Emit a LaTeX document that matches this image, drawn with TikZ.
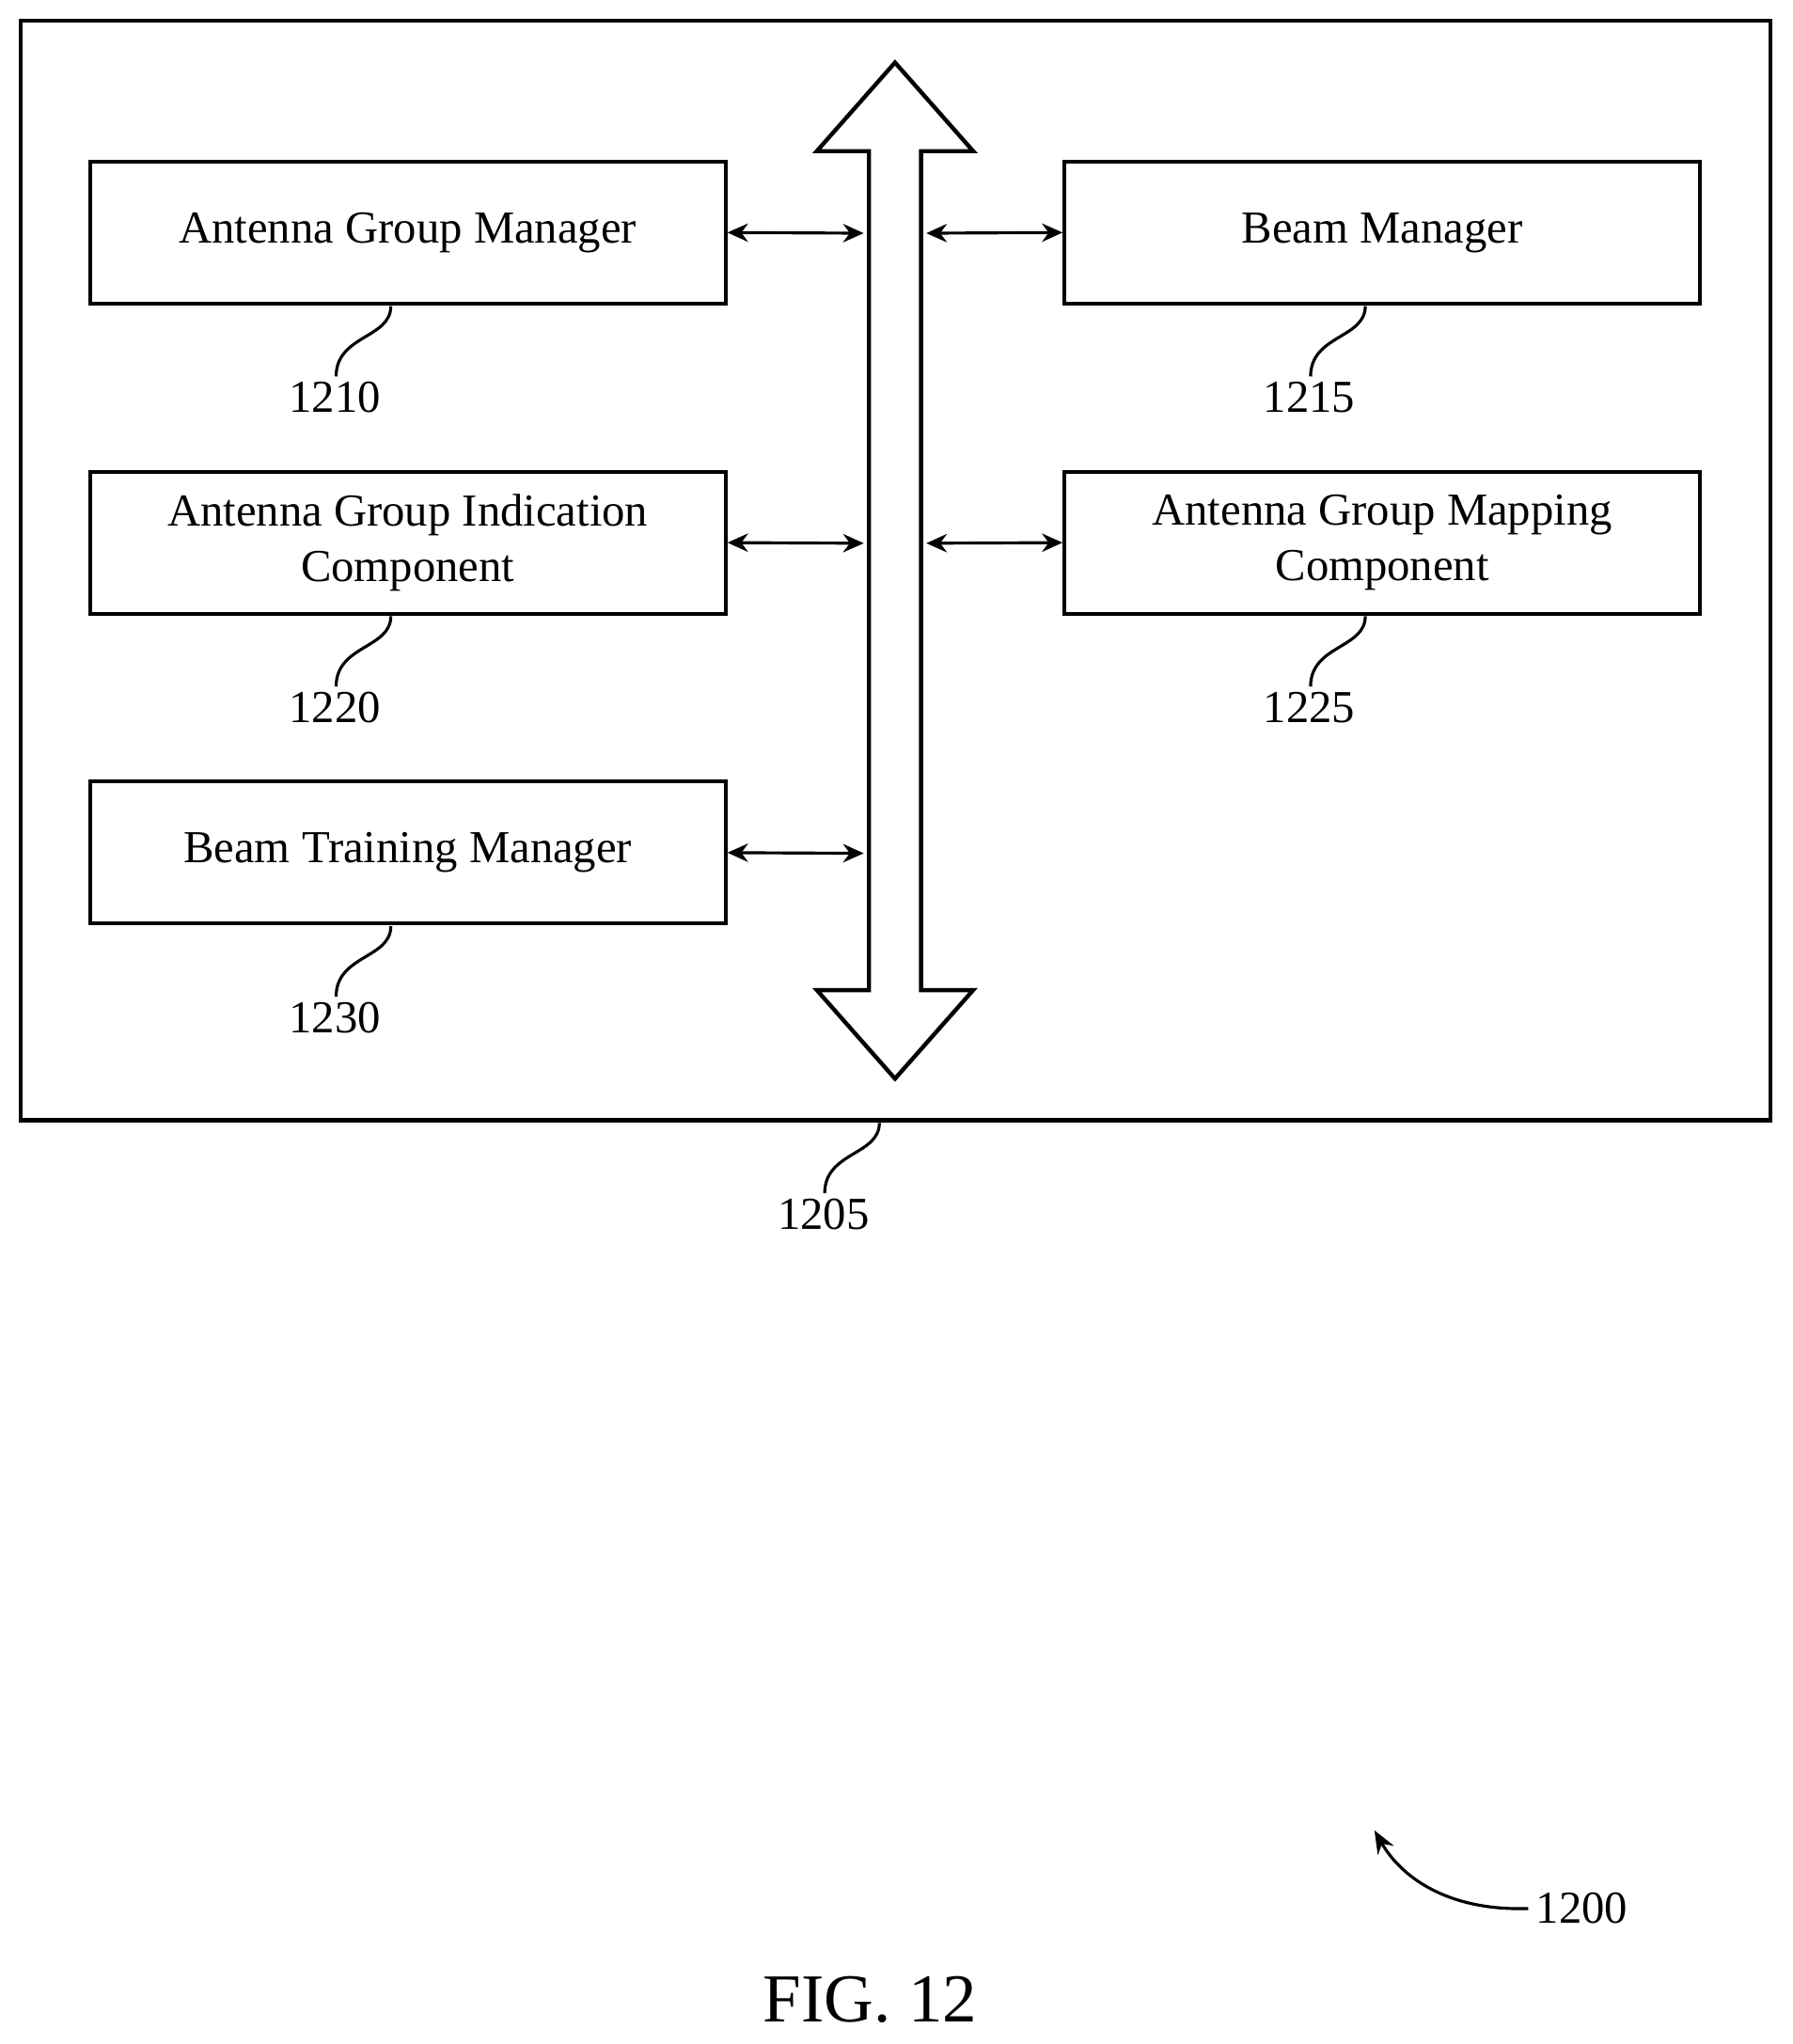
\documentclass[tikz,border=0pt]{standalone}
\usepackage{fontspec}
\setmainfont{Liberation Serif}
\usetikzlibrary{arrows.meta}
\begin{document}
\begin{tikzpicture}[x=0.02cm,y=-0.02cm,
 box/.style={draw,line width=1.6pt,minimum width=9.76cm,minimum height=2.18cm,align=center,font=\fontsize{20}{24}\selectfont,inner sep=0pt},
 lbl/.style={font=\fontsize{20}{24}\selectfont},
 conn/.style={line width=1.3pt,{Stealth[length=9pt,width=8pt]}-{Stealth[length=9pt,width=8pt]}},
 lead/.style={line width=1.3pt}]
\useasboundingbox (0,0) rectangle (1376,1569);
\draw[line width=1.8pt] (16,16) rectangle (1359,860);
\node[box] (agm) at (313,178.5) {Antenna Group Manager};
\node[box] (agi) at (313,416.5) {Antenna Group Indication\\Component};
\node[box] (btm) at (313,654.5) {Beam Training Manager};
\node[box] (bm) at (1061,178.5) {Beam Manager};
\node[box] (agmc) at (1061,416.5) {Antenna Group Mapping\\Component};
\draw[line width=1.8pt,fill=white] (687,48) -- (747,116) -- (707,116) -- (707,760) -- (747,760) -- (687,828) -- (627,760) -- (667,760) -- (667,116) -- (627,116) -- cycle;
\coordinate (bl1) at (663,179); \coordinate (bl2) at (663,417); \coordinate (bl3) at (663,655);
\coordinate (br1) at (711,179); \coordinate (br2) at (711,417);
\draw[conn] (agm.east) -- (bl1);
\draw[conn] (agi.east) -- (bl2);
\draw[conn] (btm.east) -- (bl3);
\draw[conn] (br1) -- (bm.west);
\draw[conn] (br2) -- (agmc.west);
\foreach \n/\x/\y/\t in {a/300/235/1210,b/300/473/1220,c/300/711/1230,d/1048/235/1215,e/1048/473/1225,f/675/862/1205}{
 \coordinate (s\n) at (\x,\y);
 \coordinate (e\n) at (\x-42,\y+54);
 \draw[lead] (s\n) .. controls (\x,\y+25) and (\x-42,\y+22) .. (e\n);
 \node[lbl,anchor=north] (l\n) at (\x-43,\y+52) {\t};
}
\node[lbl,anchor=west] (n1200) at (1173,1465) {1200};
\coordinate (t1200) at (1055,1405);
\draw[lead,-{Stealth[length=10pt,width=8pt]}] (n1200.west) .. controls (1110,1467) and (1075,1440) .. (t1200);
\node[font=\fontsize{30}{36}\selectfont] (fig) at (668,1535) {FIG. 12};
\end{tikzpicture}
\end{document}
